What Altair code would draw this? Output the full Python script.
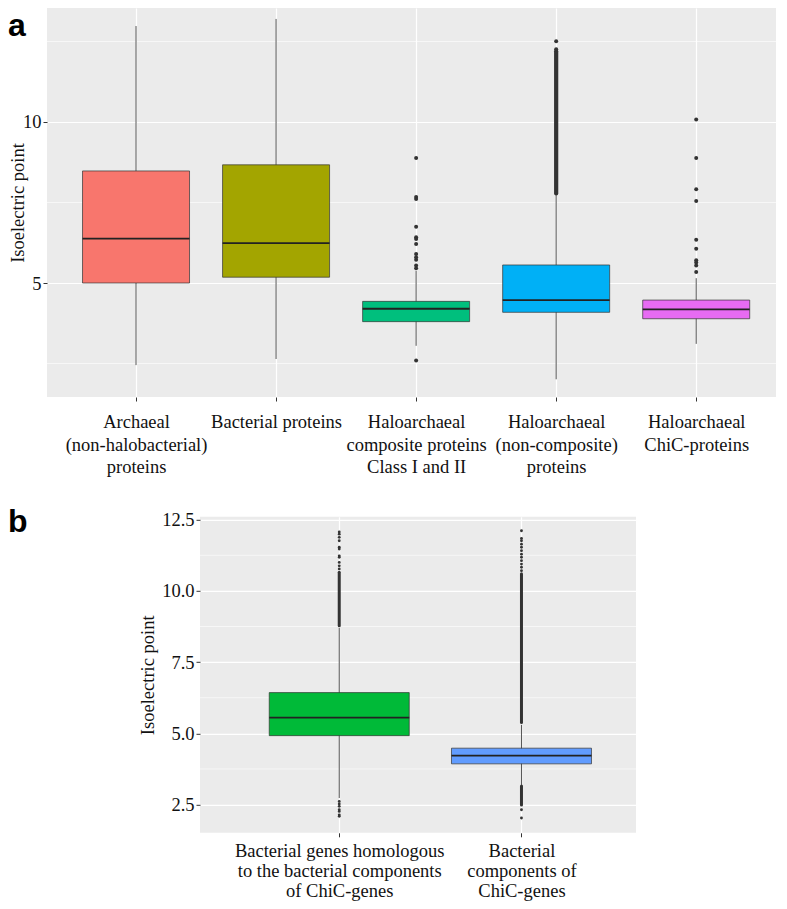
import json
import altair as alt
import pandas as pd

# ---------------- Panel a ----------------
a_labels = [
    ["Archaeal", "(non-halobacterial)", "proteins"],
    ["Bacterial proteins"],
    ["Haloarchaeal", "composite proteins", "Class I and II"],
    ["Haloarchaeal", "(non-composite)", "proteins"],
    ["Haloarchaeal", "ChiC-proteins"],
]
a_colors = ["#F8766D", "#A3A500", "#00BF7D", "#00B0F6", "#E76BF3"]
a_lower = [2.45, 2.64, 3.05, 2.01, 3.11]
a_q1 = [5.00, 5.18, 3.80, 4.09, 3.89]
a_median = [6.38, 6.24, 4.20, 4.47, 4.18]
a_q3 = [8.48, 8.67, 4.43, 5.56, 4.47]
a_upper = [12.98, 13.20, 5.38, 7.73, 5.15]
a_out_3 = [8.88, 7.67, 7.61, 6.75, 6.42, 6.37, 6.21, 5.90, 5.80, 5.72, 5.54, 5.46, 2.59]
a_out_4 = [12.26, 12.51]
a_out_5 = [10.08, 8.88, 7.91, 7.55, 6.34, 6.06, 5.71, 5.64, 5.54, 5.34]
# dense (overplotted) runs of outliers: group, from, to
a_dense_group = [4]
a_dense_from = [7.78]
a_dense_to = [12.20]
a_major = [5, 10]
a_minor = [2.5, 7.5, 12.5]

# ---------------- Panel b ----------------
b_labels = [
    ["Bacterial genes homologous", "to the bacterial components", "of ChiC-genes"],
    ["Bacterial", "components of", "ChiC-genes"],
]
b_colors = ["#00BA38", "#619CFF"]
b_lower = [2.73, 3.19]
b_q1 = [4.92, 3.93]
b_median = [5.55, 4.22]
b_q3 = [6.43, 4.48]
b_upper = [8.70, 5.30]
b_out_1 = [12.07, 11.99, 11.88, 11.76, 11.53, 11.47, 11.23, 11.18, 11.00, 10.88, 10.77,
           2.61, 2.52, 2.44, 2.32, 2.26, 2.14, 2.09]
b_out_2 = [12.11, 11.84, 11.76, 11.64, 11.53, 11.41, 11.29, 11.18, 11.06, 10.94, 10.83, 10.71,
           2.32, 2.03]
b_dense_group = [1, 2, 2]
b_dense_from = [8.78, 5.38, 2.49]
b_dense_to = [10.65, 10.60, 3.15]
b_major = [2.5, 5.0, 7.5, 10.0, 12.5]
b_minor = [3.75, 6.25, 8.75, 11.25]

SERIF = "Liberation Serif"
TXT = "#111111"


def tag_layer(tag, tag_x, tag_y):
    tag_df = pd.DataFrame({"t": [tag]})
    return alt.Chart(tag_df).mark_text(font="Liberation Sans", fontSize=32,
                                       fontWeight="bold", align="left",
                                       baseline="top", color="#000000").encode(
        x=alt.value(tag_x), y=alt.value(tag_y), text="t:N")


def panel(labels, colors, lower, q1, med, q3, upper, outs, dgroup, dfrom, dto,
          major, minor, yfmt, xdom, ydom, width, height, boxw, ptsize, densew,
          label_pad, line_h, title_x, extra=None):
    n = len(labels)
    idx = list(range(1, n + 1))
    stats = pd.DataFrame({"idx": idx, "lower": lower, "q1": q1, "median": med,
                          "q3": q3, "upper": upper, "color": colors})
    oi, ov = [], []
    for g, vals in outs:
        oi += [g] * len(vals)
        ov += vals
    out_df = pd.DataFrame({"idx": oi, "v": ov})
    dense_df = pd.DataFrame({"idx": dgroup, "v1": dfrom, "v2": dto})
    minor_df = pd.DataFrame({"m": minor})

    xaxis = alt.Axis(values=idx, labelExpr=json.dumps(labels) + "[datum.value - 1]",
                     title=None, grid=True, gridColor="white", gridWidth=1.2,
                     domain=False, tickColor="#333333", tickSize=4, tickWidth=1,
                     labelFont=SERIF, labelFontSize=18.5, labelColor=TXT,
                     labelLineHeight=line_h, labelPadding=label_pad, labelOverlap=False,
                     labelFlush=False, labelAngle=0, labelAlign="center",
                     labelBaseline="top", labelLimit=600)
    xscale = alt.Scale(domain=xdom, nice=False, zero=False)
    X = alt.X("idx:Q", scale=xscale, axis=xaxis)

    yaxis = alt.Axis(values=major, format=yfmt, title="Isoelectric point",
                     titleX=title_x, titleY=height / 2, titleAngle=270,
                     titleBaseline="middle", titleAlign="center",
                     titleFont=SERIF, titleFontSize=18.5, titleFontWeight="normal",
                     titleColor=TXT, grid=True, gridColor="white", gridWidth=1.2,
                     domain=False, tickColor="#333333", tickSize=4, tickWidth=1,
                     labelFont=SERIF, labelFontSize=18.5, labelColor=TXT,
                     labelPadding=2)
    yscale = alt.Scale(domain=ydom, nice=False, zero=False)

    def Y(f):
        return alt.Y(f, scale=yscale, axis=yaxis)

    minor_l = alt.Chart(minor_df).mark_rule(color="white", strokeWidth=0.6).encode(
        y=Y("m:Q"))
    whisk = alt.Chart(stats).mark_rule(color="#555555", strokeWidth=1).encode(
        x=X, y=Y("lower:Q"), y2="upper:Q")
    box = alt.Chart(stats).mark_bar(size=boxw, stroke="#333333", strokeWidth=0.7,
                                    opacity=1).encode(
        x=X, y=Y("q1:Q"), y2="q3:Q", color=alt.Color("color:N", scale=None))
    median = alt.Chart(stats).mark_tick(orient="horizontal", size=boxw, thickness=1.8,
                                        color="#222222", opacity=1).encode(
        x=X, y=Y("median:Q"))
    dense = alt.Chart(dense_df).mark_rule(strokeWidth=densew, strokeCap="round",
                                          color="#333333").encode(
        x=X, y=Y("v1:Q"), y2="v2:Q")
    pts = alt.Chart(out_df).mark_circle(size=ptsize, color="#333333", opacity=1).encode(
        x=X, y=Y("v:Q"))
    layers = [minor_l, whisk, box, median, dense, pts]
    if extra is not None:
        layers.append(extra)
    return alt.layer(*layers).properties(
        width=width, height=height,
        view=alt.ViewBackground(fill="#EBEBEB", stroke="transparent", strokeWidth=0))


pa = panel(a_labels, a_colors, a_lower, a_q1, a_median, a_q3, a_upper,
           [(3, a_out_3), (4, a_out_4), (5, a_out_5)],
           a_dense_group, a_dense_from, a_dense_to, a_major, a_minor, "d",
           [0.4, 5.534], [1.46, 13.54], 729, 389, 107, 16, 4.2,
           11.7, 22.5, -30, tag_layer("a", -39, 3))

pb = panel(b_labels, b_colors, b_lower, b_q1, b_median, b_q3, b_upper,
           [(1, b_out_1), (2, b_out_2)],
           b_dense_group, b_dense_from, b_dense_to, b_major, b_minor, ".1f",
           [0.2634, 2.601], [1.51, 12.6], 436, 316, 140, 8, 3.0,
           5.0, 20.0, -53)

# empty cell to the left of panel b that carries the "b" tag
spacer = tag_layer("b", -39, -10).properties(
    width=91, height=316,
    view=alt.ViewBackground(fill="transparent", stroke="transparent", strokeWidth=0))

chart = alt.vconcat(pa, alt.hconcat(spacer, pb, spacing=0), spacing=28.8,
                    padding={"left": 0, "top": 0, "right": 0, "bottom": 2}).configure_view(
    stroke="transparent", strokeWidth=0).configure(background="white")

chart.save("out.html", embed_options={"renderer": "svg", "actions": False})
